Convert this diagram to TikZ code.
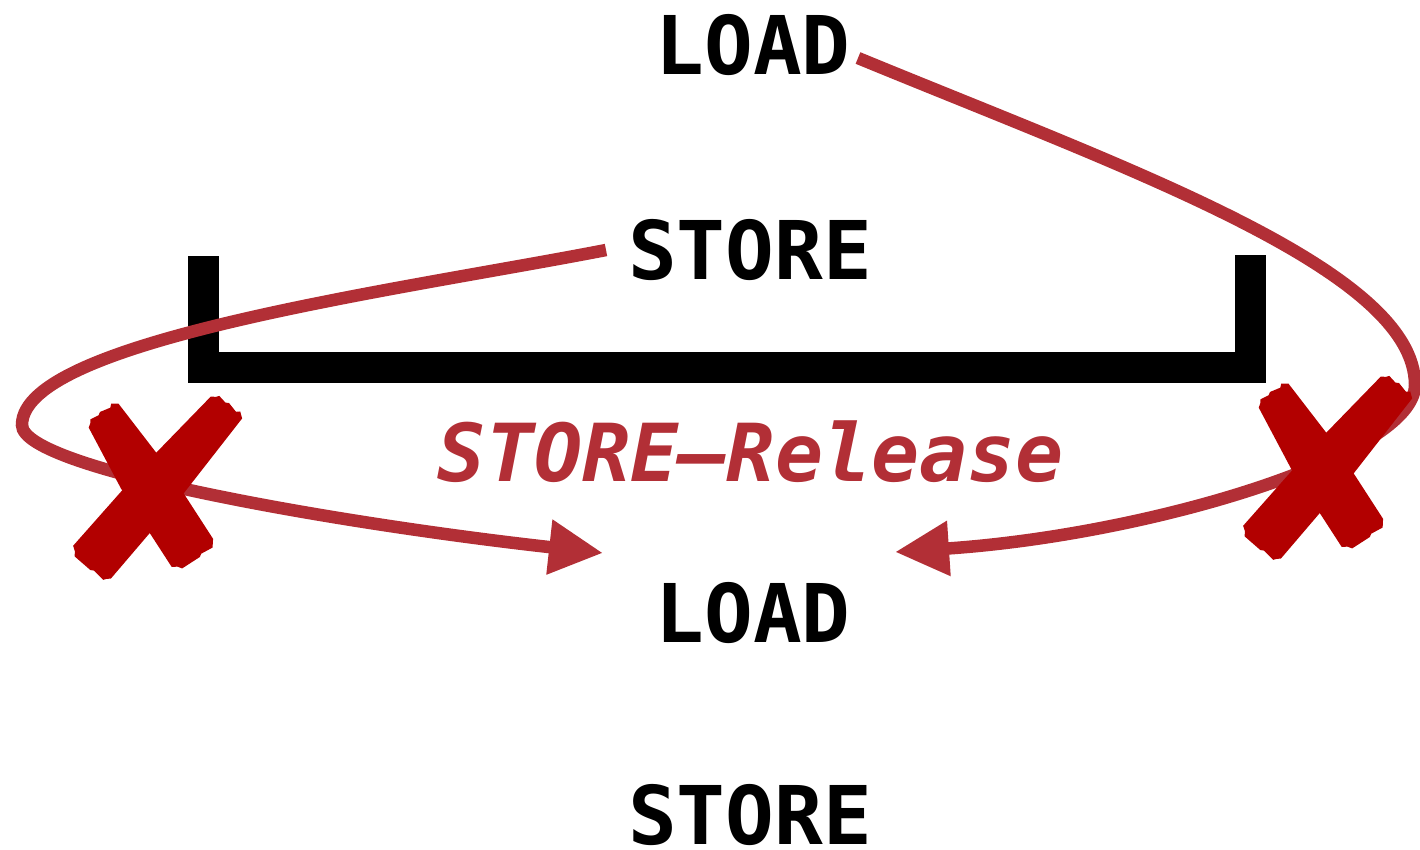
\documentclass[tikz,border=0pt]{standalone}
\usepackage{fontspec}
\usetikzlibrary{arrows.meta}
\newfontfamily\codefont{DejaVu Sans Mono}
\definecolor{arrowred}{RGB}{178,47,54}
\definecolor{xred}{RGB}{178,0,0}
\tikzset{
  op/.style={inner sep=0pt, anchor=base, text=black,
    font=\codefont\bfseries\fontsize{81}{92}\selectfont},
  rel/.style={inner sep=0pt, anchor=base, text=arrowred,
    font=\codefont\bfseries\itshape\fontsize{80}{92}\selectfont},
  fence/.style={line width=31pt, line join=miter, black},
  reorder/.style={arrowred, line width=12.5pt,
    -{Triangle[length=54pt, width=52pt]}},
  % brush-style cross
  xmark/.pic={
    \begin{scope}[rotate=-57.1]
      \fill[xred] (-93,-19) -- (-20,-25) -- (72,-25) -- (76,-22) -- (79,-20)
        -- (78,-7) -- (80,-4) -- (80,17) -- (76,20) -- (73,25) -- (-20,25)
        -- (-89,19) -- (-92,15) -- (-95,13) -- (-94,4) -- (-96,1) -- (-94,-10)
        -- (-97,-13) -- cycle;
    \end{scope}
    \begin{scope}[rotate=-131]
      \fill[xred] (-114,-19) -- (-20,-24) -- (93,-25) -- (96,-22) -- (99,-20)
        -- (98,-7) -- (100,-4) -- (100,17) -- (96,20) -- (93,25) -- (-20,24)
        -- (-110,19) -- (-113,15) -- (-116,13) -- (-115,4) -- (-117,1)
        -- (-115,-10) -- (-118,-13) -- cycle;
    \end{scope}
  }
}
\begin{document}
\begin{tikzpicture}[x=1pt, y=-1pt]
  \useasboundingbox (0,0) rectangle (1420,849);

  % instruction stream
  \node[op]  (load1)   at (753,74)  {LOAD};
  \node[op]  (store1)  at (750,279) {STORE};
  \node[rel] (release) at (751,481) {STORE–Release};
  \node[op]  (load2)   at (753,642) {LOAD};
  \node[op]  (store2)  at (750,844) {STORE};

  % release barrier
  \draw[fence] (203,256) -- (203,367.5) -- (1250,367.5) -- (1250,255);

  % end points of the forbidden moves
  \coordinate (s1) at (606,250);
  \coordinate (w1) at (22,425);
  \coordinate (t1) at (603,553);
  \coordinate (s2) at (858,58);
  \coordinate (e2) at (1415,385);
  \coordinate (t2) at (895,552);

  % STORE moved below the barrier
  \draw[reorder] (s1) .. controls (400,290) and (22,340) .. (w1)
                     .. controls (22,470) and (350,525) .. (t1);
  % LOAD moved below the barrier
  \draw[reorder] (s2) .. controls (1130,170) and (1415,270) .. (e2)
                     .. controls (1415,455) and (1150,535) .. (t2);

  % crosses over both moves
  \pic at (153,492) {xmark};
  \pic at (1323,472) {xmark};
\end{tikzpicture}
\end{document}
